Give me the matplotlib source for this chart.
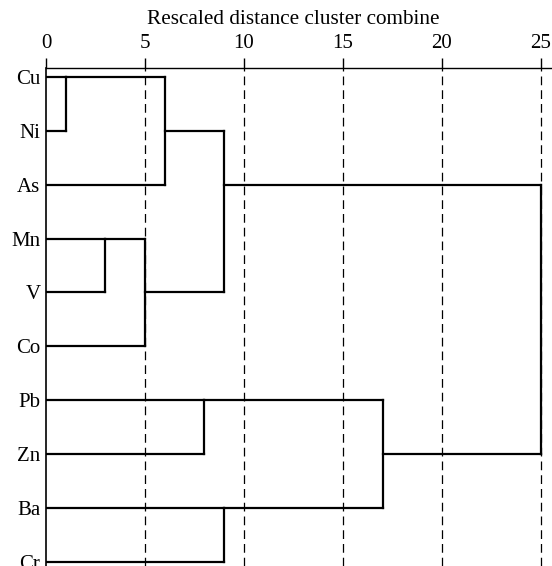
import matplotlib
matplotlib.use('Agg')
import matplotlib.pyplot as plt
import matplotlib.transforms as mtransforms

plt.rcParams['font.family'] = ['Liberation Serif', 'DejaVu Serif']

# leaves, top to bottom
labels = ['Cu', 'Ni', 'As', 'Mn', 'V', 'Co', 'Pb', 'Zn', 'Ba', 'Cr']
# merge steps: ids 0-9 are leaves, each merge creates id 10, 11, ...
merge_a = [0, 3, 11, 10, 6, 13, 8, 14, 15]
merge_b = [1, 4, 5, 2, 7, 12, 9, 16, 17]
merge_h = [1, 3, 5, 6, 8, 9, 9, 17, 25]
ticks = [0, 5, 10, 15, 20, 25]

fig = plt.figure(figsize=(5.52, 5.66), dpi=100)
ax = fig.add_axes([46 / 552, 0, 1 - 46 / 552, 1 - 68 / 566])

row = {i: i for i in range(len(labels))}
xpos = {i: 0 for i in range(len(labels))}
lw = 1.6
for k, (a, b, h) in enumerate(zip(merge_a, merge_b, merge_h)):
    ax.plot([xpos[a], h], [row[a], row[a]], color='black', lw=lw, solid_capstyle='projecting')
    ax.plot([xpos[b], h], [row[b], row[b]], color='black', lw=lw, solid_capstyle='projecting')
    ax.plot([h, h], [row[a], row[b]], color='black', lw=lw, solid_capstyle='projecting')
    new = len(labels) + k
    row[new] = (row[a] + row[b]) // 2
    xpos[new] = h

for t in ticks[1:]:
    ax.axvline(t, color='black', lw=0.9, dashes=(7, 4), zorder=0)

ax.set_xlim(0, (552 - 46) / 19.8)
ax.set_ylim(9.08, -0.167)

ax.xaxis.tick_top()
ax.set_xticks(ticks)
ax.tick_params(axis='x', direction='out', length=7, width=1, pad=4, labelsize=15)
ax.set_yticks(range(len(labels)))
ax.set_yticklabels(labels)
ax.tick_params(axis='y', length=0, pad=4, labelsize=15)

ax.spines['right'].set_visible(False)
ax.spines['bottom'].set_visible(False)
ax.spines['top'].set_linewidth(1)
ax.spines['left'].set_linewidth(1.2)

trans = mtransforms.blended_transform_factory(ax.transData, fig.transFigure)
ax.text(12.5, 1 - 20 / 566, 'Rescaled distance cluster combine', transform=trans,
        ha='center', va='center', fontsize=15.3)

fig.savefig('out.png', dpi=100)
